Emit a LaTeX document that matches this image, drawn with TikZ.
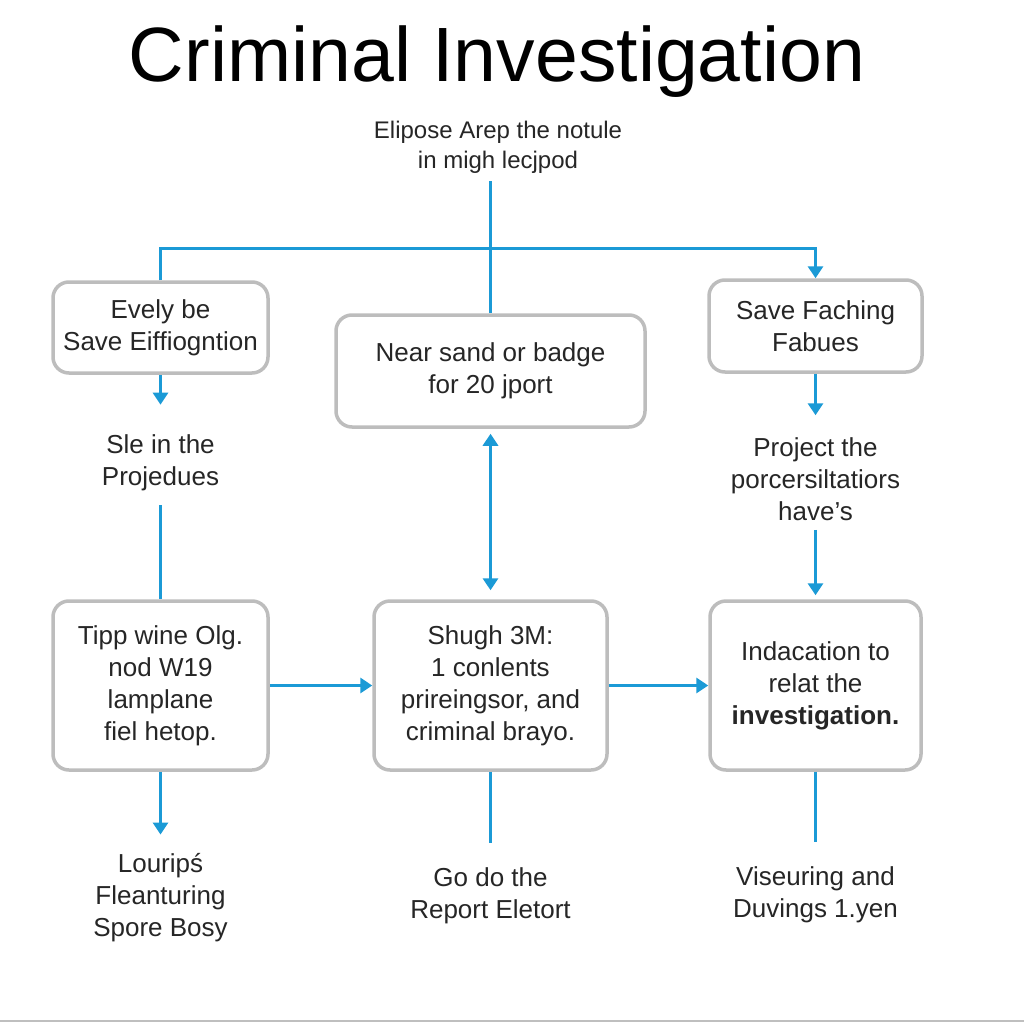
\documentclass[tikz,border=0pt]{standalone}
\usepackage{fontspec}
\setmainfont{Liberation Sans}
\usetikzlibrary{arrows.meta}
\definecolor{flowblue}{HTML}{1B9AD6}
\definecolor{boxgray}{HTML}{BDBDBD}
\definecolor{inkgray}{HTML}{262626}
\begin{document}
\begin{tikzpicture}[x=1pt,y=-1pt,
  box/.style={draw=boxgray, line width=3.5pt, rounded corners=16pt, fill=white,
    align=center, text=inkgray, font=\fontsize{26}{32}\selectfont, inner sep=0pt},
  txt/.style={align=center, text=inkgray, font=\fontsize{26}{32}\selectfont, inner sep=0pt},
  flow/.style={draw=flowblue, line width=3pt},
  arr/.style={-{Triangle[width=15pt,length=12pt]}},
  darr/.style={{Triangle[width=15pt,length=12pt]}-{Triangle[width=15pt,length=12pt]}},
]
\useasboundingbox[fill=white] (0,0) rectangle (1024,1024);
\draw[black!25, line width=2pt] (0,1021) -- (1024,1021);

% title and top text
\node[anchor=base, font=\fontsize{77}{90}\selectfont, text=black, inner sep=0pt] (title) at (497,82) {Criminal Investigation};
\node[txt, font=\fontsize{24}{30}\selectfont] (top) at (498,147) {Elipose Arep the notule\\in migh lecjpod};

% boxes
\node[box, minimum width=215pt, minimum height=91pt] (L1) at (160.5,327.5) {Evely be\\Save Eiffiogntion};
\node[box, minimum width=309pt, minimum height=112pt] (C1) at (490.5,371) {Near sand or badge\\for 20 jport};
\node[box, minimum width=213pt, minimum height=92pt] (R1) at (815.5,326) {Save Faching\\Fabues};
\node[box, minimum width=215pt, minimum height=169pt] (L2) at (160.5,685.5) {Tipp wine Olg.\\nod W19\\lamplane\\fiel hetop.};
\node[box, minimum width=233pt, minimum height=169pt] (C2) at (490.5,685.5) {Shugh 3M:\\1 conlents\\prireingsor, and\\criminal brayo.};
\node[box, minimum width=211pt, minimum height=169pt] (R2) at (815.5,685.5) {Indacation to\\relat the\\\textbf{investigation.}};

% free texts
\node[txt] (TL) at (160.5,463) {Sle in the\\Projedues};
\node[txt] (TR) at (815.5,479) {Project the\\porcersiltatiors\\have’s};
\node[txt] (BL) at (160.5,898) {Louripś\\Fleanturing\\Spore Bosy};
\node[txt] (BC) at (490.5,896) {Go do the\\Report Eletort};
\node[txt] (BR) at (815.5,895) {Viseuring and\\Duvings 1.yen};

\coordinate (hub) at (490.5,248);

% connectors
\draw[flow] (C1.north |- top.south) ++(0,8) -- (C1.north);
\draw[flow, arr] (L1.north) |- (hub) -| (R1.north);
\draw[flow, arr, shorten >=30pt] (L1.south) -- (TL.north);
\draw[flow, shorten <=14pt] (TL.south) -- (L2.north);
\draw[flow, arr, shorten >=19pt] (L2.south) -- (BL.north);
\draw[flow, arr, shorten >=22pt] (R1.south) -- (TR.north);
\draw[flow, arr, shorten <=9pt, shorten >=4pt] (TR.south) -- (R2.north);
\draw[flow, darr, shorten <=5pt, shorten >=9pt] (C1.south) -- (C2.north);
\draw[flow, arr] (L2.east) -- (C2.west);
\draw[flow, arr] (C2.east) -- (R2.west);
\draw[flow, shorten >=25pt] (C2.south) -- (BC.north);
\draw[flow, shorten >=25pt] (R2.south) -- (BR.north);
\end{tikzpicture}
\end{document}
